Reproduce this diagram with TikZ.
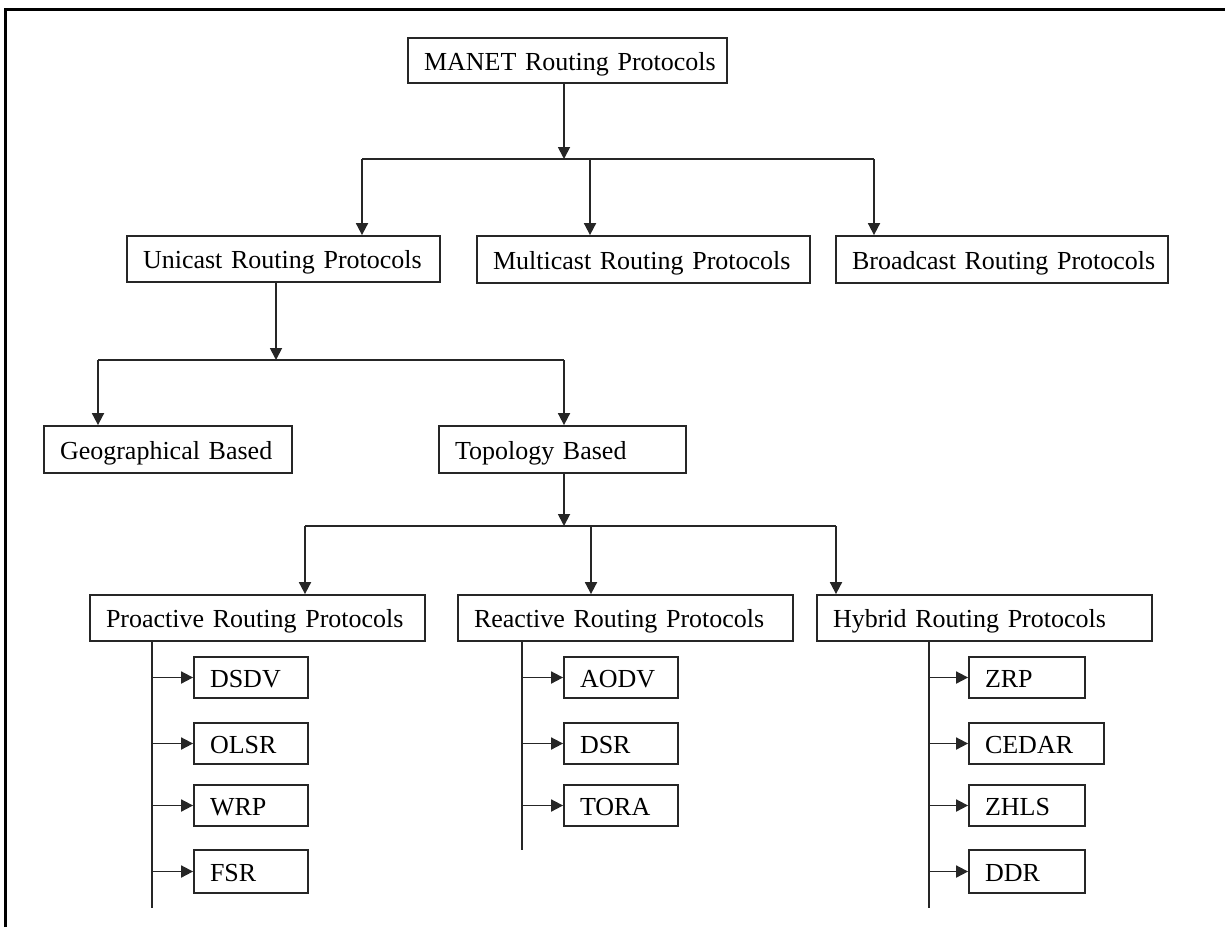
\documentclass[tikz,border=0pt]{standalone}
\usepackage{fontspec}
\setmainfont{Liberation Serif}
\usetikzlibrary{arrows.meta}
\newcommand\boxfont{\fontsize{26}{30}\selectfont\fontdimen2\font=4.6pt\relax}
\begin{document}
\begin{tikzpicture}[x=1pt,y=-1pt,
  line width=1.8pt,
  box/.style={draw=black!85, line width=1.8pt, inner xsep=16pt, inner ysep=0pt,
    align=left, text height=19pt, text depth=0pt,
    font=\boxfont, execute at begin node={\mbox\bgroup}, execute at end node={\egroup}},
  arr/.style={-{Triangle[width=12pt,length=12pt]}},
  conn/.style={draw=black!85, line width=1.8pt}]
\useasboundingbox (0,0) rectangle (1225,927);
\draw[line width=3pt] (5,927) -- (5,9.5) -- (1225,9.5);
% level 0
\node[box, text width=287pt, minimum height=45pt] (manet) at (567.5,60.5) {MANET Routing Protocols};
% level 1
\node[box, text width=281pt, minimum height=46pt] (uni) at (283.5,259) {Unicast Routing Protocols};
\node[box, text width=301pt, minimum height=47pt] (multi) at (643.5,259.5) {Multicast Routing Protocols};
\node[box, text width=300pt, minimum height=47pt] (broad) at (1002,259.5) {Broadcast Routing Protocols};
% level 2
\node[box, text width=216pt, minimum height=47pt] (geo) at (168,449.5) {Geographical Based};
\node[box, text width=215pt, minimum height=47pt] (topo) at (562.5,449.5) {Topology Based};
% level 3
\node[box, text width=303pt, minimum height=46pt] (pro) at (257.5,618) {Proactive Routing Protocols};
\node[box, text width=303pt, minimum height=46pt] (rea) at (625.5,618) {Reactive Routing Protocols};
\node[box, text width=303pt, minimum height=46pt] (hyb) at (984.5,618) {Hybrid Routing Protocols};
% leaves
\node[box, text width=82pt, minimum height=41pt] (dsdv) at (251,677.5) {DSDV};
\node[box, text width=82pt, minimum height=41pt] (olsr) at (251,743.5) {OLSR};
\node[box, text width=82pt, minimum height=41pt] (wrp) at (251,805.5) {WRP};
\node[box, text width=82pt, minimum height=43pt] (fsr) at (251,871.5) {FSR};
\node[box, text width=82pt, minimum height=41pt] (aodv) at (621,677.5) {AODV};
\node[box, text width=82pt, minimum height=41pt] (dsr) at (621,743.5) {DSR};
\node[box, text width=82pt, minimum height=41pt] (tora) at (621,805.5) {TORA};
\node[box, text width=84pt, minimum height=41pt] (zrp) at (1027,677.5) {ZRP};
\node[box, text width=103pt, minimum height=41pt] (cedar) at (1036.5,743.5) {CEDAR};
\node[box, text width=84pt, minimum height=41pt] (zhls) at (1027,805.5) {ZHLS};
\node[box, text width=84pt, minimum height=43pt] (ddr) at (1027,871.5) {DDR};
% bus 1
\coordinate (b1) at (564,159);
\coordinate (xu) at (362,159);
\coordinate (xm) at (590,159);
\coordinate (xb) at (874,159);
\draw[conn,arr] (manet.south -| b1) -- (b1);
\draw[conn] (xu) -- (xb);
\draw[conn,arr] (xu) -- (xu |- uni.north);
\draw[conn,arr] (xm) -- (xm |- multi.north);
\draw[conn,arr] (xb) -- (xb |- broad.north);
% bus 2
\coordinate (b2) at (276,360);
\coordinate (xg) at (98,360);
\coordinate (xt) at (564,360);
\draw[conn,arr] (uni.south -| b2) -- (b2);
\draw[conn] (xg) -- (xt);
\draw[conn,arr] (xg) -- (xg |- geo.north);
\draw[conn,arr] (xt) -- (xt |- topo.north);
% bus 3
\coordinate (b3) at (564,526);
\coordinate (xp) at (305,526);
\coordinate (xr) at (591,526);
\coordinate (xh) at (836,526);
\draw[conn,arr] (topo.south -| b3) -- (b3);
\draw[conn] (xp) -- (xh);
\draw[conn,arr] (xp) -- (xp |- pro.north);
\draw[conn,arr] (xr) -- (xr |- rea.north);
\draw[conn,arr] (xh) -- (xh |- hyb.north);
% stems
\coordinate (pe) at (152,908);
\coordinate (re) at (522,850);
\coordinate (he) at (929,908);
\draw[conn] (pro.south -| pe) -- (pe);
\draw[conn] (rea.south -| re) -- (re);
\draw[conn] (hyb.south -| he) -- (he);
\foreach \n in {dsdv,olsr,wrp,fsr} \draw[conn,arr] (pe |- \n.west) -- (\n.west);
\foreach \n in {aodv,dsr,tora} \draw[conn,arr] (re |- \n.west) -- (\n.west);
\foreach \n in {zrp,cedar,zhls,ddr} \draw[conn,arr] (he |- \n.west) -- (\n.west);
\end{tikzpicture}
\end{document}
